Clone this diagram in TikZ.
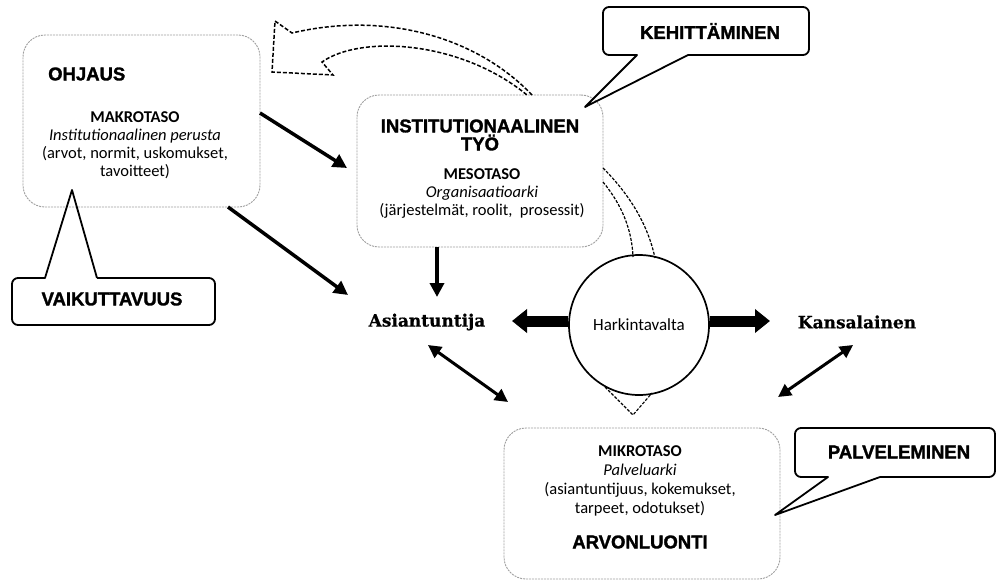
\documentclass[tikz,border=0pt]{standalone}
\usepackage{fontspec}
\setmainfont{Carlito}
\newfontfamily\heavyfont{Liberation Sans}[FakeBold=1.6]
\newfontfamily\actorfont{DejaVu Serif}[FakeBold=0.6]
\usetikzlibrary{arrows.meta}
\tikzset{
  softbox/.style={draw=gray!75, line width=0.9pt, dash pattern=on 2pt off 1pt, rounded corners=22pt, inner sep=0pt, outer sep=0pt},
  callout/.style={draw=black, line width=1.8pt, line join=round},
  headtext/.style={font=\heavyfont\bfseries\fontsize{18.5}{18}\selectfont, inner sep=0pt, align=center},
  bodytext/.style={font=\fontsize{16.5}{18}\selectfont, align=center, inner sep=0pt},
  actor/.style={font=\actorfont\bfseries\fontsize{17}{20}\selectfont, inner sep=0pt},
  thickarrow/.style={line width=3.5pt, -{Triangle[length=14pt,width=14pt]}},
  twoway/.style={line width=3pt, {Triangle[length=13pt,width=13pt]}-{Triangle[length=13pt,width=13pt]}},
  bigarrow/.style={line width=11pt, -{Triangle[length=15pt,width=23pt]}},
  dashline/.style={draw=black, line width=1.5pt, dash pattern=on 4pt off 2pt, line join=miter},
}
\begin{document}
\begin{tikzpicture}[x=1pt,y=-1pt]
\useasboundingbox (0,0) rectangle (997,581);
\fill[white] (0,0) rectangle (997,581);

% main boxes
\node[softbox, anchor=north west, minimum width=237pt, minimum height=172pt] (ohjaus) at (23,35) {};
\node[softbox, anchor=north west, minimum width=246pt, minimum height=152pt] (inst) at (357,95) {};
\node[softbox, anchor=north west, minimum width=276pt, minimum height=151pt] (mikro) at (504,428) {};

% texts in OHJAUS box
\node[headtext, anchor=west] (ohjt) at (48,74) {OHJAUS};
\node[bodytext] (makro) at (135,145) {\textbf{MAKROTASO}\\\textit{Institutionaalinen perusta}\\(arvot, normit, uskomukset,\\tavoitteet)};

% texts in INST box
\node[headtext] (instt) at (480,135) {INSTITUTIONAALINEN\\TYÖ};
\node[bodytext] (meso) at (482,194) {\textbf{MESOTASO}\\\textit{Organisaatioarki}\\(järjestelmät, roolit,~ prosessit)};

% texts in MIKRO box
\node[bodytext, font=\fontsize{16.5}{19}\selectfont] (mikrot) at (640,481) {\textbf{MIKROTASO}\\\textit{Palveluarki}\\(asiantuntijuus, kokemukset,\\tarpeet, odotukset)};
\node[headtext] (arvo) at (640,542) {ARVONLUONTI};

% actors
\node[actor] (asi) at (427,322) {Asiantuntija};
\node[actor] (kan) at (857,322) {Kansalainen};

% circle with dashed tails
\draw[dashline, line width=1.2pt, dash pattern=on 3pt off 1.5pt] (603,168) .. controls (630,195) and (648,225) .. (655,258);
\draw[dashline, line width=1.2pt, dash pattern=on 3pt off 1.5pt] (603,182) .. controls (622,205) and (632,230) .. (633,257);
\draw[dashline, line width=1.1pt, dash pattern=on 3pt off 1.5pt] (605,387) -- (633,415) -- (652,393);
\node[circle, draw, line width=1.7pt, minimum size=140pt, inner sep=0pt, font=\fontsize{17}{17}\selectfont] (hark) at (639,325) {Harkintavalta};

% curved hollow dashed arrow
\draw[dashline] (532,95) .. controls (480,40) and (390,10) .. (292,33)
  -- (275,21) -- (272,72) -- (333,75) -- (322,62)
  .. controls (360,35) and (460,40) .. (527,95);

% callouts
\node[headtext] (keh) at (710,31) {KEHITTÄMINEN};
\draw[callout] (688,55) -- (585,107) -- (637,55) [rounded corners=6pt] -- (603,55) -- (603,7) -- (809,7) -- (809,55) -- (688,55);
\node[headtext] (vaik) at (112,299) {VAIKUTTAVUUS};
\draw[callout] (97,278) -- (72,190) -- (45,278) [rounded corners=6pt] -- (12,278) -- (12,325) -- (215,325) -- (215,278) -- (97,278);
\node[headtext] (palv) at (899,452) {PALVELEMINEN};
\draw[callout] (880,477) -- (775,515) -- (828,477) [rounded corners=6pt] -- (795,477) -- (795,428) -- (995,428) -- (995,477) -- (880,477);

% connector end points
\coordinate (o1) at (260,113);
\coordinate (i1) at (347,168);
\coordinate (o2) at (228,207);
\coordinate (a1) at (348,295);
\coordinate (i2) at (437,247);
\coordinate (a2) at (437,297);
\coordinate (hl) at (568,321);
\coordinate (al) at (512,321);
\coordinate (hr) at (710,321);
\coordinate (kr) at (770,321);
\coordinate (a3) at (428,345);
\coordinate (m1) at (508,402);
\coordinate (k3) at (853,345);
\coordinate (m2) at (778,397);

\draw[thickarrow] (o1) -- (i1);
\draw[thickarrow] (o2) -- (a1);
\draw[thickarrow] (i2) -- (a2);
\draw[bigarrow] (hl) -- (al);
\draw[bigarrow] (hr) -- (kr);
\draw[twoway] (a3) -- (m1);
\draw[twoway] (k3) -- (m2);
\end{tikzpicture}
\end{document}
